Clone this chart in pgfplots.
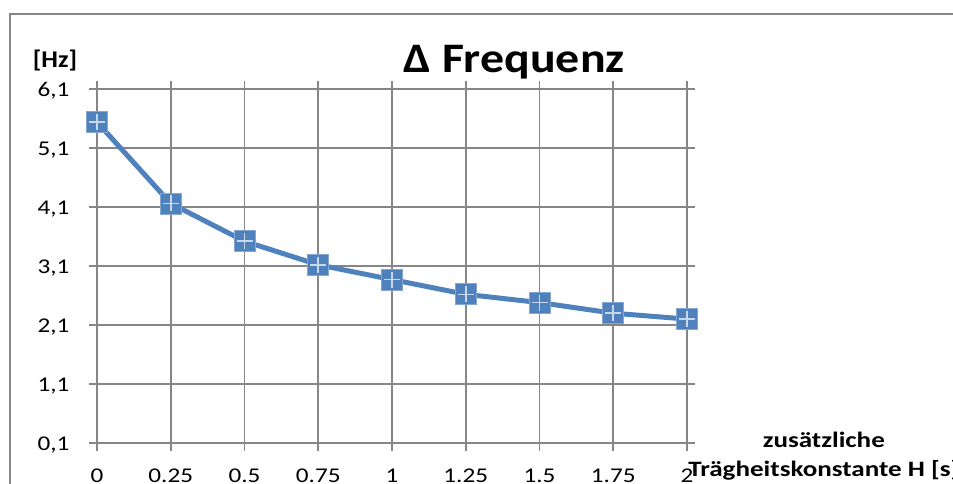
\documentclass[border=0pt]{standalone}
\usepackage{graphicx}
\usepackage{fontspec}
\setmainfont{Carlito}
\usepackage{pgfplots}
\pgfplotsset{compat=1.18}
\definecolor{gridgray}{HTML}{868686}
\definecolor{serblue}{HTML}{4F81BD}
\definecolor{pluscol}{HTML}{C9D7EA}
\newcommand{\sx}[1]{\scalebox{1.2}[1]{#1}}
\begin{document}
\begin{tikzpicture}
\useasboundingbox (0,0) rectangle (953bp,484bp);
\clip (0,0) rectangle (953bp,484bp);
\draw[gridgray, line width=1.4bp] (1100bp,470bp) -- (10bp,470bp) -- (10bp,-100bp);
\begin{axis}[
  at={(97bp,41bp)}, anchor=south west,
  scale only axis, width=590bp, height=354bp,
  xmin=0, xmax=2, ymin=0.1, ymax=6.1,
  xtick={0,0.25,0.5,0.75,1,1.25,1.5,1.75,2},
  xticklabels={\sx{0},\sx{0.25},\sx{0.5},\sx{0.75},\sx{1},\sx{1.25},\sx{1.5},\sx{1.75},\sx{2}},
  ytick={0.1,1.1,2.1,3.1,4.1,5.1,6.1},
  yticklabels={\sx{0,1},\sx{1,1},\sx{2,1},\sx{3,1},\sx{4,1},\sx{5,1},\sx{6,1}},
  grid=major,
  grid style={gridgray, line width=1.6bp},
  axis line style={gridgray, line width=1.6bp},
  tick style={gridgray, line width=1.6bp},
  tick align=outside, major tick length=8bp,
  ticklabel style={font=\fontsize{21bp}{24bp}\selectfont, text=black},
  yticklabel style={anchor=east, xshift=-16bp, yshift=-2bp},
  xticklabel style={anchor=north, yshift=-14bp},
  title={\scalebox{1.14}[1]{\textbf{Δ Frequenz}}},
  title style={font=\fontsize{42bp}{46bp}\selectfont, at={(rel axis cs:0.707,1)}, anchor=base, yshift=11bp, inner sep=0pt},
  xlabel={\scalebox{1.23}[1]{\textbf{zusätzliche}}\\\scalebox{1.23}[1]{\textbf{Trägheitskonstante H [s]}}},
  xlabel style={font=\fontsize{22bp}{29bp}\selectfont, align=center, at={(rel axis cs:1.232,0)}, anchor=north, yshift=11bp, inner sep=0pt},
  clip=false,
]
\node[font=\fontsize{24bp}{28bp}\selectfont, anchor=base, inner sep=0pt] at ([yshift=21bp]rel axis cs:-0.0712,1) {\scalebox{1.1}[1]{\textbf{[Hz]}}};
\addplot[serblue, line width=5bp, mark=square*, mark size=10.5bp, mark options={fill=serblue, draw=serblue!70!white, line width=0.8bp}]
coordinates {(0,5.54) (0.25,4.16) (0.5,3.52) (0.75,3.12) (1,2.87) (1.25,2.62) (1.5,2.48) (1.75,2.30) (2,2.20)};
\addplot[only marks, mark=+, mark size=8bp, mark options={draw=pluscol, line width=1.6bp}]
coordinates {(0,5.54) (0.25,4.16) (0.5,3.52) (0.75,3.12) (1,2.87) (1.25,2.62) (1.5,2.48) (1.75,2.30) (2,2.20)};
\end{axis}
\end{tikzpicture}
\end{document}
